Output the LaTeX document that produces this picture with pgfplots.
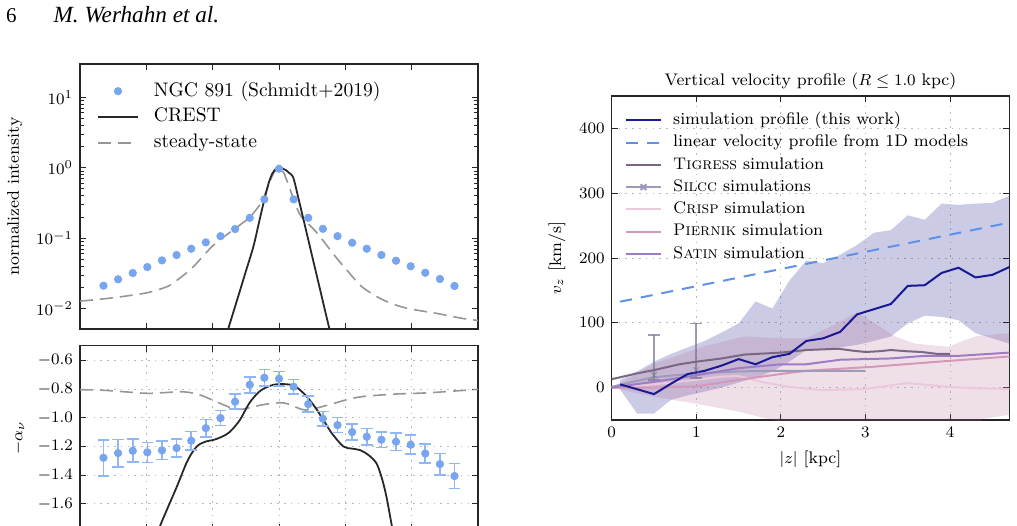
\documentclass[border=0pt]{standalone}
\usepackage{fontspec}
\usepackage{pgfplots}
\pgfplotsset{compat=1.18}
\newfontfamily\timesfont{Liberation Serif}
\definecolor{dotblue}{RGB}{120,165,240}
\definecolor{errblue}{RGB}{145,182,245}
\definecolor{crestc}{RGB}{40,40,40}
\definecolor{ssgray}{RGB}{150,150,150}
\definecolor{navyc}{RGB}{25,25,145}
\definecolor{linblue}{RGB}{95,145,235}
\definecolor{tigc}{RGB}{120,104,130}
\definecolor{silc}{RGB}{158,154,186}
\definecolor{crispc}{RGB}{236,200,220}
\definecolor{piec}{RGB}{214,152,184}
\definecolor{satc}{RGB}{158,124,196}
\definecolor{bandnavy}{RGB}{31,31,143}
\definecolor{bandpink}{RGB}{176,96,138}
\pgfplotsset{
  mystyle/.style={
    scale only axis,
    axis line style={black!85, line width=0.6pt},
    tick style={black!85, line width=0.5pt},
    major tick length=3pt,
    minor tick length=1.8pt,
    tick align=inside,
    tick label style={font=\fontsize{8.5}{10}\selectfont},
    label style={font=\fontsize{8.4}{10}\selectfont},
    grid style={gray!55, dash pattern=on 0.8pt off 2.6pt, line width=0.5pt},
    legend cell align=left,
  }
}
\begin{document}
\begin{tikzpicture}
\useasboundingbox (0,0) rectangle (508.5pt,-262.5pt);
\clip (0,0) rectangle (508.5pt,-262.5pt);
\node[anchor=base west, inner sep=0pt, font=\timesfont\fontsize{10.5}{12}\selectfont] at (2.8pt,-11.35pt) {6};
\node[anchor=base west, inner sep=0pt, font=\timesfont\itshape\fontsize{11.6}{14}\selectfont] at (26.6pt,-11.35pt) {M. Werhahn et al.};

% ---------------- top-left: intensity
\begin{axis}[mystyle,
  at={(40pt,-164.5pt)}, anchor=south west,
  width=199pt, height=132.5pt,
  xmin=-3, xmax=3, ymode=log, ymin=0.00515, ymax=29.7,
  xtick={-2,-1,0,1,2}, xticklabels={},
  ytick={0.01,0.1,1,10},
  ylabel={normalized intensity},
  legend style={draw=none, fill=none, inner sep=0pt, column sep=7.5pt, row sep=3.1pt,
    nodes={inner sep=0pt, text height=7.35pt, text depth=2.45pt},
    at={(0,1)}, anchor=north west, xshift=8.35pt, yshift=-8.5pt,
    font=\fontsize{9.8}{12}\selectfont},
  legend image code/.code={\draw[mark repeat=2,mark phase=2,#1] plot coordinates {(0pt,0pt)(10pt,0pt)(20pt,0pt)};},
]
\addlegendimage{only marks, mark=*, mark size=1.85pt, dotblue}
\addlegendentry{NGC 891 (Schmidt+2019)}
\addlegendimage{crestc, line width=0.9pt}
\addlegendentry{CREST}
\addlegendimage{ssgray, line width=0.8pt, dash pattern=on 6.5pt off 3.5pt}
\addlegendentry{steady-state}
\addplot[forget plot, ssgray, line width=0.8pt, dash pattern=on 6.5pt off 3.5pt, smooth] coordinates {
(-3,0.0128) (-2.64,0.0138) (-2.31,0.0151) (-1.97,0.017) (-1.67,0.0209) (-1.5,0.027) (-1.32,0.037) (-1.15,0.055) (-1.0,0.078) (-0.83,0.105) (-0.66,0.138) (-0.44,0.2) (-0.26,0.33) (-0.15,0.6) (-0.07,0.88) (0,1.0) (0.07,0.85) (0.15,0.55) (0.25,0.3) (0.34,0.2) (0.56,0.123) (0.85,0.055) (1.05,0.033) (1.25,0.0205) (1.55,0.0136) (1.9,0.0103) (2.4,0.0085) (2.76,0.0073) (3,0.0068)};
\addplot[forget plot, crestc, line width=0.9pt, smooth] coordinates {
(-0.82,0.0035) (-0.74,0.0062) (-0.6,0.0166) (-0.5,0.0339) (-0.387,0.0755) (-0.3,0.17) (-0.211,0.387) (-0.15,0.63) (-0.1,0.83) (-0.05,0.955) (0,1.0) (0.05,0.98) (0.1,0.93) (0.15,0.85) (0.216,0.72) (0.3,0.346) (0.4,0.139) (0.5,0.0556) (0.6,0.0223) (0.7,0.0089) (0.8,0.0036)};
\addplot[forget plot, only marks, mark=*, mark size=1.85pt, dotblue] coordinates {
(-2.646,0.0212) (-2.426,0.0261) (-2.205,0.0321) (-1.985,0.039) (-1.764,0.0485) (-1.544,0.0578) (-1.323,0.071) (-1.103,0.0873) (-0.882,0.107) (-0.662,0.135) (-0.441,0.195) (-0.221,0.356) (0,0.97) (0.221,0.356) (0.441,0.195) (0.662,0.136) (0.882,0.107) (1.103,0.0863) (1.323,0.071) (1.544,0.0578) (1.764,0.048) (1.985,0.040) (2.205,0.0324) (2.426,0.0264) (2.646,0.021)};
\end{axis}

% ---------------- bottom-left: spectral index
\begin{axis}[mystyle,
  at={(40pt,-265pt)}, anchor=south west,
  width=199pt, height=92.15pt,
  xmin=-3, xmax=3, ymin=-1.782, ymax=-0.498,
  xtick={-2,-1,0,1,2}, xticklabels={},
  ytick={-1.6,-1.4,-1.2,-1.0,-0.8,-0.6},
  yticklabel style={/pgf/number format/.cd, fixed, fixed zerofill, precision=1},
  grid=major,
  ylabel={$-\alpha_\nu$},
]
\addplot[ssgray, line width=0.8pt, dash pattern=on 6.5pt off 3.5pt, smooth] coordinates {
(-3,-0.805) (-2.7,-0.807) (-2.3,-0.82) (-1.95,-0.83) (-1.45,-0.819) (-1.2,-0.84) (-1.0,-0.877) (-0.7,-0.935) (-0.55,-0.94) (-0.25,-0.91) (0,-0.895) (0.15,-0.905) (0.4,-0.946) (0.75,-0.91) (1.0,-0.877) (1.25,-0.853) (1.75,-0.835) (2.25,-0.826) (3,-0.802)};
\addplot[crestc, line width=0.9pt, smooth] coordinates {
(-1.95,-1.95) (-1.79,-1.75) (-1.54,-1.48) (-1.38,-1.30) (-1.24,-1.20) (-1.1,-1.165) (-0.99,-1.155) (-0.85,-1.13) (-0.74,-1.098) (-0.59,-1.016) (-0.45,-0.90) (-0.3,-0.819) (-0.15,-0.78) (0,-0.765) (0.2,-0.772) (0.3,-0.80) (0.42,-0.853) (0.55,-0.93) (0.67,-1.016) (0.8,-1.11) (0.97,-1.2) (1.1,-1.215) (1.22,-1.225) (1.35,-1.26) (1.47,-1.318) (1.55,-1.42) (1.62,-1.55) (1.70,-1.75) (1.78,-1.95)};
\addplot[only marks, mark=*, mark size=1.85pt, dotblue,
  error bars/.cd, y dir=both, y explicit,
  error bar style={errblue, line width=0.8pt},
  error mark options={errblue, line width=0.8pt, rotate=90, mark size=2.9pt}]
coordinates {
(-2.646,-1.279) +- (0,0.125)
(-2.426,-1.246) +- (0,0.095)
(-2.205,-1.230) +- (0,0.08)
(-1.985,-1.241) +- (0,0.07)
(-1.764,-1.227) +- (0,0.065)
(-1.544,-1.211) +- (0,0.062)
(-1.323,-1.160) +- (0,0.063)
(-1.103,-1.072) +- (0,0.06)
(-0.882,-1.002) +- (0,0.053)
(-0.662,-0.888) +- (0,0.053)
(-0.441,-0.770) +- (0,0.056)
(-0.221,-0.721) +- (0,0.056)
(0,-0.728) +- (0,0.051)
(0.221,-0.784) +- (0,0.051)
(0.441,-0.905) +- (0,0.056)
(0.662,-1.007) +- (0,0.05)
(0.882,-1.051) +- (0,0.052)
(1.103,-1.100) +- (0,0.057)
(1.323,-1.132) +- (0,0.058)
(1.544,-1.153) +- (0,0.055)
(1.764,-1.167) +- (0,0.06)
(1.985,-1.188) +- (0,0.066)
(2.205,-1.249) +- (0,0.066)
(2.426,-1.323) +- (0,0.075)
(2.646,-1.406) +- (0,0.086)};
\end{axis}

% ---------------- right: velocity profile
\begin{axis}[mystyle,
  at={(305.85pt,-210pt)}, anchor=south west,
  width=198.8pt, height=162pt,
  xmin=0, xmax=4.7, ymin=-50, ymax=450,
  xtick={0,1,2,3,4}, ytick={0,100,200,300,400},
  grid=major,
  xlabel={$|z|$ [kpc]}, ylabel={$v_z$ [km/s]},
  title={Vertical velocity profile ($R \leq 1.0$ kpc)},
  title style={font=\fontsize{8.4}{10}\selectfont, yshift=-6.3pt},
  legend style={draw=none, fill=none, inner sep=0pt, column sep=5.85pt, row sep=2.75pt,
    nodes={inner sep=0pt, text height=6.3pt, text depth=2.1pt},
    at={(0,1)}, anchor=north west, xshift=6.65pt, yshift=-7.7pt,
    font=\fontsize{8.4}{10}\selectfont},
]
\addlegendimage{navyc, line width=1pt}
\addlegendentry{simulation profile (this work)}
\addlegendimage{linblue, line width=1pt, dash pattern=on 6pt off 4.5pt}
\addlegendentry{linear velocity profile from 1D models}
\addlegendimage{tigc, line width=1pt}
\addlegendentry{\textsc{Tigress} simulation}
\addlegendimage{silc, line width=1pt, mark=x, mark size=2pt, mark options={solid}}
\addlegendentry{\textsc{Silcc} simulations}
\addlegendimage{crispc, line width=1pt}
\addlegendentry{\textsc{Crisp} simulation}
\addlegendimage{piec, line width=1pt}
\addlegendentry{\textsc{Piernik} simulation}
\addlegendimage{satc, line width=1pt}
\addlegendentry{\textsc{Satin} simulation}
% navy band
\addplot[forget plot, draw=none, fill=bandnavy, fill opacity=0.23] coordinates {
(0.1,12) (0.3,25) (0.5,40) (0.7,52) (0.9,62) (1.1,72) (1.3,85) (1.5,99) (1.7,133) (1.9,122) (2.1,165) (2.3,196) (2.5,192) (2.7,205) (2.9,220) (3.1,239) (3.3,243) (3.5,266) (3.7,259) (3.9,284) (4.1,282) (4.3,284) (4.5,285) (4.7,296)
(4.7,68) (4.5,76) (4.3,84) (4.1,104) (3.9,109) (3.7,111) (3.5,99) (3.3,79) (3.1,72) (2.9,66) (2.7,62) (2.5,60) (2.3,58) (2.1,40) (1.9,25) (1.7,15) (1.5,8) (1.3,0) (1.1,-6) (0.9,-12) (0.7,-19) (0.5,-40) (0.3,-40) (0.1,-3)} -- cycle;
% pink band
\addplot[forget plot, draw=none, fill=bandpink, fill opacity=0.2] coordinates {
(0,2) (0.1,7) (0.5,37) (1.1,64) (1.57,79) (2.0,76) (2.3,76) (2.6,95) (2.9,116) (3.1,100) (3.35,79) (3.58,68) (3.98,63) (4.17,73) (4.33,80) (4.7,84)
(4.7,-42) (4.4,-48) (4.3,-56) (4.0,-70) (3.0,-70) (2.3,-60) (1.9,-50) (1.5,-37) (1.0,-25) (0.5,-14) (0.1,-3) (0,-1)} -- cycle;
% lines
\addplot[forget plot, crispc, line width=1pt] coordinates {
(0,0) (0.5,5) (1.0,12) (1.3,17) (1.5,18) (1.8,8) (2.1,1) (2.5,-4) (3.0,-2) (3.5,7) (4.0,1) (4.3,-1) (4.7,-2)};
\addplot[forget plot, piec, line width=1pt] coordinates {
(0,0) (0.5,0) (1.0,2) (1.5,12) (2.0,21) (2.3,26) (3.07,32) (3.86,40) (4.7,48)};
\addplot[forget plot, silc, line width=1pt] coordinates {
(0,1) (0.25,9) (0.5,16) (0.75,19) (1.0,22) (1.5,25) (2.0,26) (2.5,26) (3.0,26)};
\addplot[forget plot, only marks, mark=x, mark size=2pt, silc!80!black, opacity=0.75,
  error bars/.cd, y dir=both, y explicit,
  error bar style={silc!80!black, line width=1pt},
  error mark options={silc!80!black, line width=0.8pt, rotate=90, mark size=3pt}]
coordinates {(0.5,19) += (0,62) -= (0,7) (1.0,27) += (0,72) -= (0,12.5)};
\addplot[forget plot, satc, line width=1pt] coordinates {
(0,0) (0.5,9) (1.0,19) (1.5,30) (2.0,36) (2.3,36) (2.7,43) (3.3,45) (3.7,49) (4.1,49) (4.7,54)};
\addplot[forget plot, tigc, line width=1pt] coordinates {
(0,13) (0.3,22) (0.5,27) (0.8,36) (1.0,40) (1.3,45) (1.57,51) (2.0,54) (2.3,58) (2.68,60) (2.85,57) (3.0,55) (3.15,56) (3.3,58) (3.5,56) (3.66,55) (3.85,52) (4.0,52)};
\addplot[forget plot, linblue, line width=1pt, dash pattern=on 6pt off 4.5pt] coordinates {
(0.1,132.6) (4.7,254.6)};
\addplot[forget plot, navyc, line width=1pt] coordinates {
(0.1,5) (0.5,-10) (0.7,6) (0.9,21) (1.1,26) (1.3,34) (1.5,44) (1.7,36) (1.9,47) (2.1,52) (2.3,72) (2.5,76) (2.7,86) (2.9,113) (3.1,121) (3.3,129) (3.5,157) (3.7,158) (3.9,177) (4.1,185) (4.3,170) (4.5,174) (4.7,186)};
\end{axis}
\end{tikzpicture}
\end{document}
